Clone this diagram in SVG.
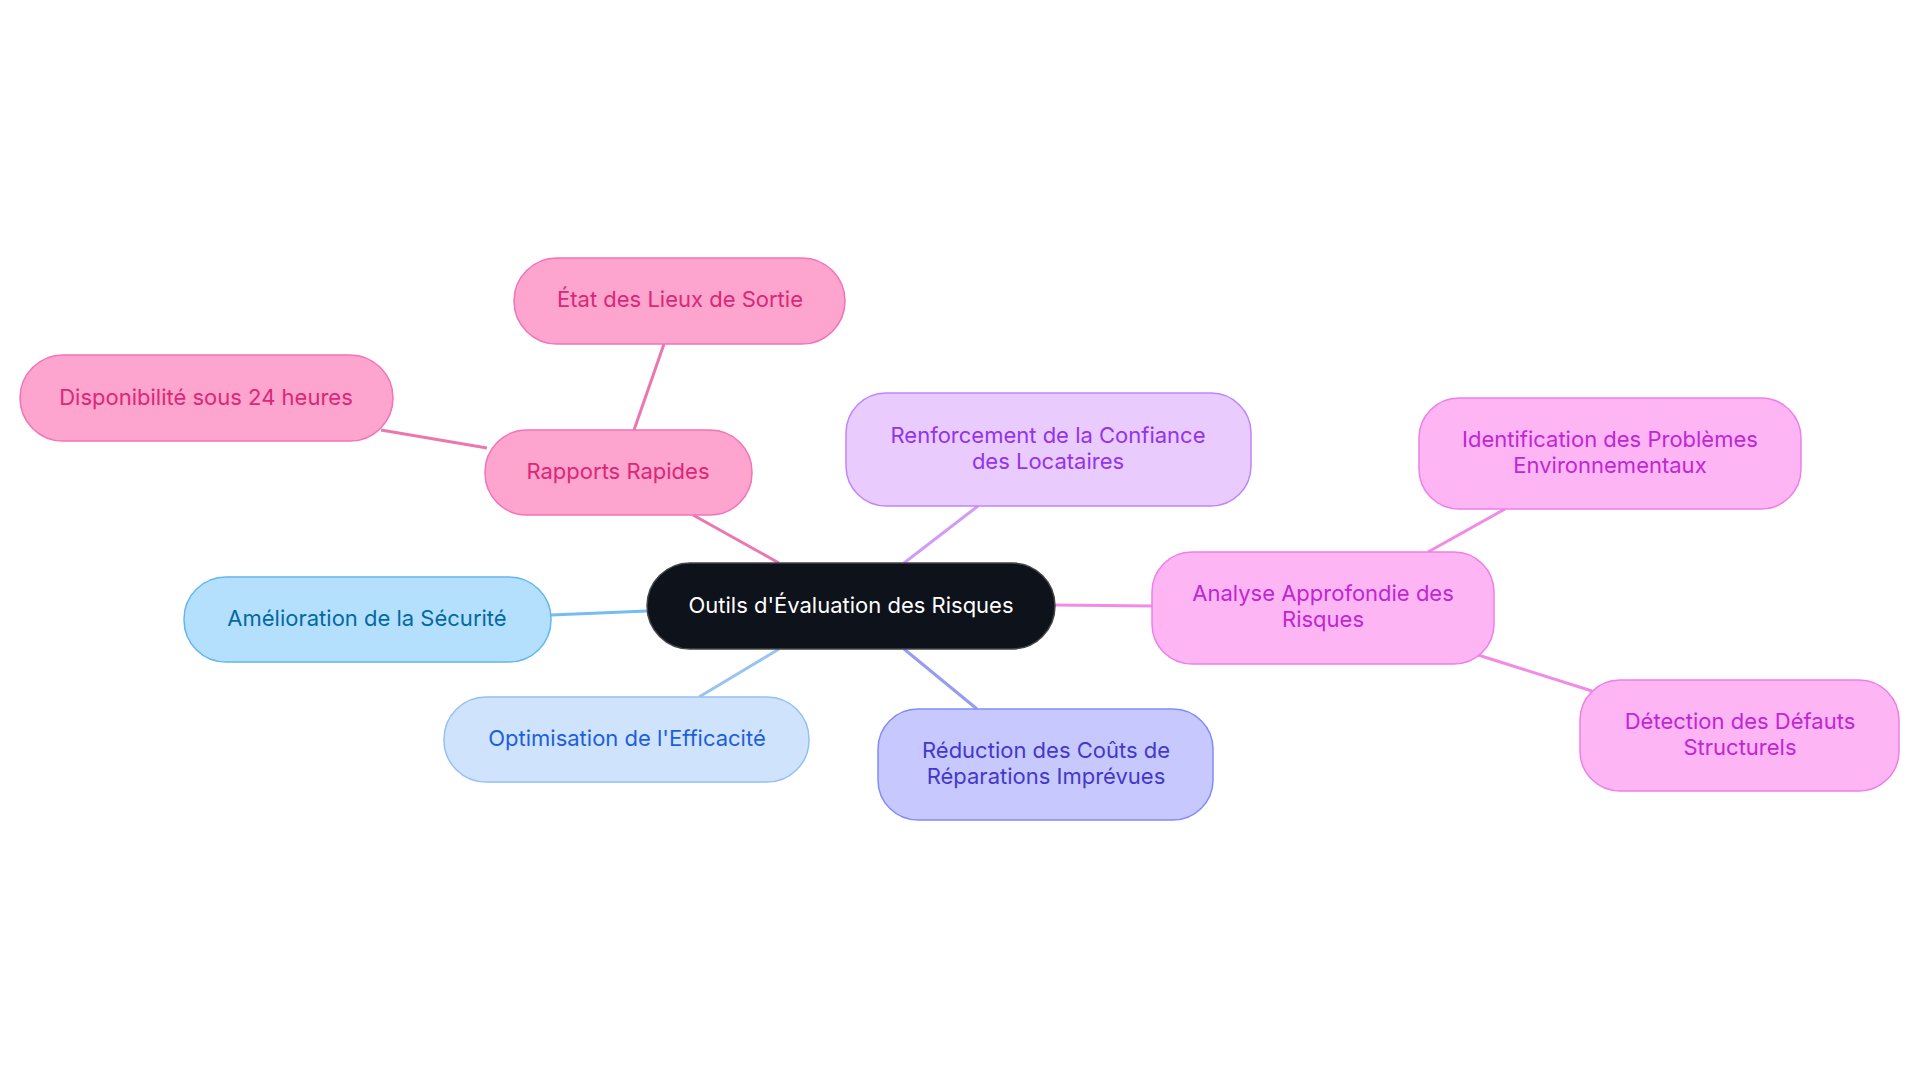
<svg xmlns="http://www.w3.org/2000/svg" width="1920" height="1083" viewBox="0 0 1920 1083">
<style>
text{font-family:Inter,"Noto Sans",sans-serif;font-size:22px;text-anchor:middle;dominant-baseline:central}
.e{fill:none;stroke-width:3}
.pk rect{fill:#fda4cf;stroke:#f472b6;stroke-width:1.5}.pk text{fill:#db2777}
.mg rect{fill:#fdb5f4;stroke:#f07de8;stroke-width:1.5}.mg text{fill:#c026d3}
.pu rect{fill:#e9cbfd;stroke:#c084fc;stroke-width:1.5}.pu text{fill:#9333ea}
.in rect{fill:#c7c9fe;stroke:#818cf8;stroke-width:1.5}.in text{fill:#4338ca}
.lb rect{fill:#b5e0fd;stroke:#60b7f0;stroke-width:1.5}.lb text{fill:#0369a1}
.ob rect{fill:#cfe3fd;stroke:#93c0f5;stroke-width:1.5}.ob text{fill:#1d5fd8}
</style>
<rect width="1920" height="1083" fill="#fff"/>
<g id="connectors">
<line class="e" stroke="#ec77b0" x1="779" y1="563" x2="693" y2="515"/>
<line class="e" stroke="#ec77b0" x1="634" y1="430" x2="664" y2="344"/>
<line class="e" stroke="#ec77b0" x1="487" y1="448" x2="381" y2="430"/>
<line class="e" stroke="#73bdf0" x1="647" y1="611" x2="551" y2="615"/>
<line class="e" stroke="#9ac3f2" x1="779" y1="649" x2="699" y2="697"/>
<line class="e" stroke="#949cf4" x1="904" y1="649" x2="977" y2="709"/>
<line class="e" stroke="#cf9cf8" x1="904" y1="563" x2="978" y2="506"/>
<line class="e" stroke="#f28ae6" x1="1055" y1="605" x2="1152" y2="606"/>
<line class="e" stroke="#f28ae6" x1="1428" y1="552" x2="1505" y2="509"/>
<line class="e" stroke="#f28ae6" x1="1478" y1="655" x2="1592" y2="691"/>
</g>
<g id="center"><rect x="647" y="563" width="408" height="86" rx="43" fill="#0d121b" stroke="#444" stroke-width="1.5"/><text x="851" y="605" fill="#fff">Outils d'Évaluation des Risques</text></g>
<g id="rapports" class="pk"><rect x="485" y="430" width="267" height="85" rx="42"/><text x="618" y="471">Rapports Rapides</text></g>
<g id="etat" class="pk"><rect x="514" y="258" width="331" height="86" rx="43"/><text x="680" y="299">État des Lieux de Sortie</text></g>
<g id="dispo" class="pk"><rect x="20" y="355" width="373" height="86" rx="43"/><text x="206" y="397">Disponibilité sous 24 heures</text></g>
<g id="amelio" class="lb"><rect x="184" y="577" width="367" height="85" rx="42"/><text x="367" y="618">Amélioration de la Sécurité</text></g>
<g id="optim" class="ob"><rect x="444" y="697" width="365" height="85" rx="42"/><text x="627" y="738">Optimisation de l'Efficacité</text></g>
<g id="reduc" class="in"><rect x="878" y="709" width="335" height="111" rx="40"/><text x="1046" y="750">Réduction des Coûts de</text><text x="1046" y="776">Réparations Imprévues</text></g>
<g id="renf" class="pu"><rect x="846" y="393" width="405" height="113" rx="40"/><text x="1048" y="435">Renforcement de la Confiance</text><text x="1048" y="461">des Locataires</text></g>
<g id="analyse" class="mg"><rect x="1152" y="552" width="342" height="112" rx="40"/><text x="1323" y="593">Analyse Approfondie des</text><text x="1323" y="619">Risques</text></g>
<g id="ident" class="mg"><rect x="1419" y="398" width="382" height="111" rx="40"/><text x="1610" y="439">Identification des Problèmes</text><text x="1610" y="465">Environnementaux</text></g>
<g id="detec" class="mg"><rect x="1580" y="680" width="319" height="111" rx="40"/><text x="1740" y="721">Détection des Défauts</text><text x="1740" y="747">Structurels</text></g>
</svg>
